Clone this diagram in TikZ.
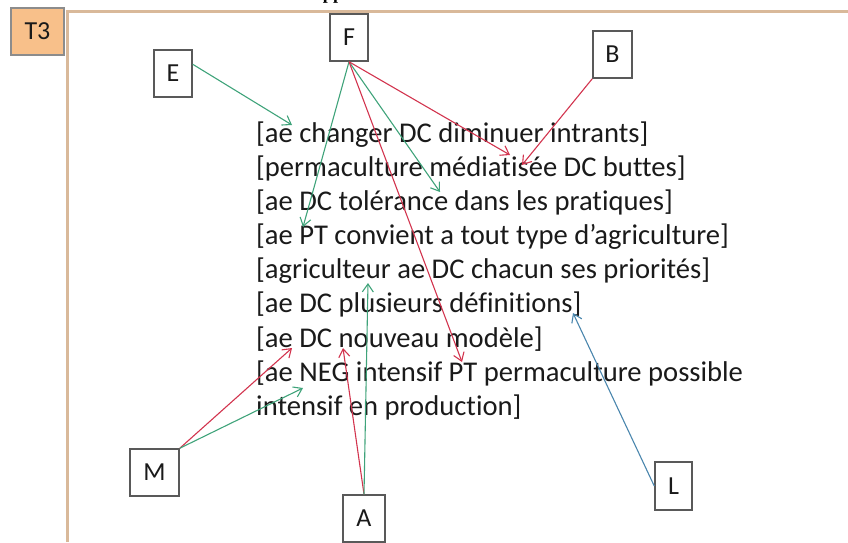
\documentclass[tikz,border=0pt]{standalone}
\usepackage{fontspec}
\setmainfont{Carlito}[Ligatures=NoCommon]
\newfontfamily\titlefont{Liberation Serif}
\usetikzlibrary{arrows.meta}
\definecolor{grn}{HTML}{3FA37A}
\definecolor{rd}{HTML}{D2344E}
\definecolor{blu}{HTML}{4A86AD}
\definecolor{frm}{HTML}{D9B99A}
\definecolor{tfill}{HTML}{F8C08A}
\definecolor{txt}{HTML}{1A1A1A}
\begin{document}
\begin{tikzpicture}[x=1pt,y=-1pt,
  lbox/.style={draw=black!65,line width=1.5pt,fill=white,minimum width=38pt,minimum height=47pt,inner sep=0pt,font=\fontsize{26}{30}\selectfont,text=txt},
  item/.style={anchor=base west,inner sep=0pt,font=\fontsize{28.6}{34}\selectfont,text=txt},
  arr/.style={line width=1.1pt,-{Straight Barb[length=8pt,width=11pt]}},
]
\useasboundingbox (0,0) rectangle (848,542);
% frame
\draw[frm,line width=3pt] (67,542) -- (67,11) -- (848,11);
\node[font=\fontsize{18}{20}\titlefont\bfseries\selectfont,anchor=base,inner sep=0pt] (pp) at (333,-1) {pp};
\node[draw=black!45,line width=1.2pt,fill=tfill,minimum width=53pt,minimum height=47pt,inner sep=0pt,font=\fontsize{26}{30}\selectfont,text=txt] (t3) at (37.5,31.5) {T3};
% text lines
\node[item] (l1) at (256,142) {[ae changer DC diminuer intrants]};
\node[item] (l2) at (256,176) {[permaculture médiatisée DC buttes]};
\node[item] (l3) at (256,210) {[ae DC tolérance dans les pratiques]};
\node[item] (l4) at (256,244.5) {[ae PT convient a tout type d’agriculture]};
\node[item] (l5) at (256,278.5) {[agriculteur ae DC chacun ses priorités]};
\node[item] (l6) at (256,312.5) {[ae DC plusieurs définitions]};
\node[item] (l7) at (256,347) {[ae DC nouveau modèle]};
\node[item] (l8) at (256,381) {[ae NEG intensif PT permaculture possible};
\node[item] (l9) at (256,415) {intensif en production]};
% boxes
\node[lbox] (F) at (349,37.5) {F};
\node[lbox] (E) at (173,73.5) {E};
\node[lbox,minimum width=39pt] (B) at (612.5,54.5) {B};
\node[lbox,minimum width=49pt] (M) at (154.5,472.5) {M};
\node[lbox,minimum width=42pt] (A) at (364,518.5) {A};
\node[lbox,minimum width=37pt,minimum height=48pt] (L) at (673.5,486) {L};
% arrow targets
\coordinate (c1) at (292,125);
\coordinate (c2) at (303,227);
\coordinate (c3) at (440,192);
\coordinate (c4) at (510,155);
\coordinate (c5) at (462,362);
\coordinate (c6) at (522,165);
\coordinate (c7) at (292,348);
\coordinate (c8) at (303,388);
\coordinate (c9) at (343,348);
\coordinate (c10) at (368,283);
\coordinate (c11) at (573,313);
% arrows
\draw[arr,grn] (E.25) -- (c1);
\draw[arr,grn] (F.south) -- (c2);
\draw[arr,grn] (F.south) -- (c3);
\draw[arr,rd] (F.south) -- (c4);
\draw[arr,rd] (F.south) -- (c5);
\draw[arr,rd] (B.south west) -- (c6);
\draw[arr,rd] (M.north east) -- (c7);
\draw[arr,grn] (M.north east) -- (c8);
\draw[arr,rd] (A.north) -- (c9);
\draw[arr,grn] (A.north) -- (c10);
\draw[arr,blu] (L.west) -- (c11);
\end{tikzpicture}
\end{document}
